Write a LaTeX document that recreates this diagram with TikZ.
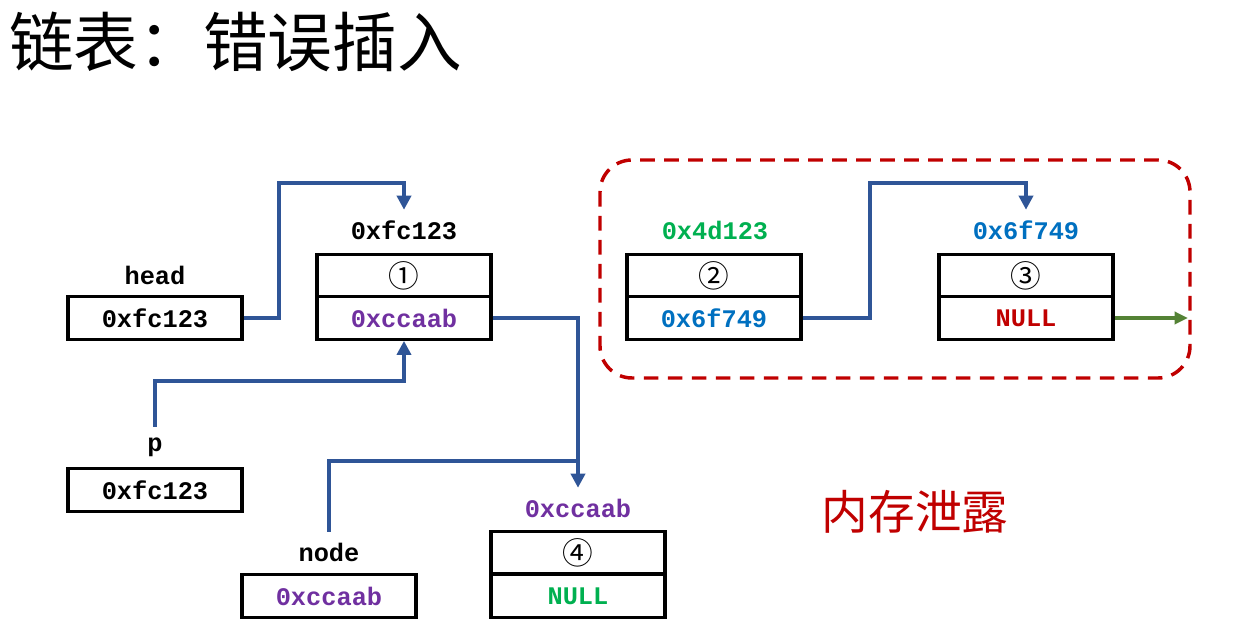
\documentclass[tikz,border=0pt]{standalone}
\usepackage{fontspec}
\setmainfont{Liberation Serif}
\setmonofont{Liberation Mono}
\newfontfamily\cjk{Noto Sans CJK SC}
\usetikzlibrary{arrows.meta}
\definecolor{linkblue}{HTML}{2F5597}
\definecolor{txtpurple}{HTML}{7030A0}
\definecolor{txtgreen}{HTML}{00B050}
\definecolor{txtblue}{HTML}{0070C0}
\definecolor{txtred}{HTML}{C00000}
\definecolor{arrgreen}{HTML}{548235}
\tikzset{
  cell/.style={draw=black, line width=2.3pt, minimum width=130.5pt, minimum height=32pt, inner sep=0pt,
    font=\ttfamily\bfseries\fontsize{19}{20}\selectfont},
  numcell/.style={cell, font=\cjk\fontsize{23}{24}\selectfont},
  lbl/.style={minimum height=30pt, inner sep=0pt, font=\ttfamily\bfseries\fontsize{19}{20}\selectfont},
  link/.style={draw=linkblue, line width=2.6pt, -{Triangle[length=10.5pt,width=10.5pt]}},
  plainlink/.style={draw=linkblue, line width=2.6pt},
  nullarrow/.style={draw=arrgreen, line width=2.6pt, -{Triangle[length=10pt,width=9pt]}},
  leakbox/.style={draw=txtred, line width=2.6pt, dashed, dash pattern=on 11pt off 7pt, rounded corners=24pt}
}
\begin{document}
\begin{tikzpicture}[x=0.75pt,y=-0.75pt]
\useasboundingbox (0,0) rectangle (1254,641);
% title
\node[anchor=west, inner sep=0pt, font=\cjk\fontsize{48.5}{52}\selectfont] (title) at (9,42) {链表：错误插入};
% leak region
\draw[leakbox] (600,160) rectangle (1190,378);
\node[inner sep=0pt, text=txtred, font=\cjk\fontsize{35}{38}\selectfont] (leak) at (915,512) {内存泄露};
% head
\node[lbl] (hdl) at (155,275) {head};
\node[cell] (hd) at (155,318) {0xfc123};
% node 1
\node[lbl] (n1l) at (404,230) {0xfc123};
\node[numcell] (n1a) at (404,275.5) {①};
\node[cell, text=txtpurple] (n1b) at (404,318) {0xccaab};
% node 2
\node[lbl, text=txtgreen] (n2l) at (715,230) {0x4d123};
\node[numcell] (n2a) at (714,275.5) {②};
\node[cell, text=txtblue] (n2b) at (714,318) {0x6f749};
% node 3
\node[lbl, text=txtblue] (n3l) at (1026,230) {0x6f749};
\node[numcell] (n3a) at (1026,275.5) {③};
\node[cell, text=txtred] (n3b) at (1026,318) {NULL};
% p
\node[lbl] (pl) at (155,447) {p};
\node[cell] (p) at (155,490) {0xfc123};
% node
\node[lbl] (ndl) at (329,552) {node};
\node[cell, text=txtpurple] (nd) at (329,596) {0xccaab};
% node 4
\node[lbl, text=txtpurple] (n4l) at (578,508) {0xccaab};
\node[numcell] (n4a) at (578,552.5) {④};
\node[cell, text=txtgreen] (n4b) at (578,596) {NULL};
% connectors
\coordinate (join) at (578,461);
\coordinate (nullend) at (1188,318);
\draw[link] (hd.east) -- (279,318) -- (279,183) -| (n1l.north);
\draw[link] (n1b.east) -| (n4l.north);
\draw[link] (pl.north) -- (155,381) -| (n1b.south);
\draw[plainlink] (ndl.north) |- (join);
\draw[link] (n2b.east) -- (870,318) -- (870,183) -| (n3l.north);
\draw[nullarrow] (n3b.east) -- (nullend);
\end{tikzpicture}
\end{document}
